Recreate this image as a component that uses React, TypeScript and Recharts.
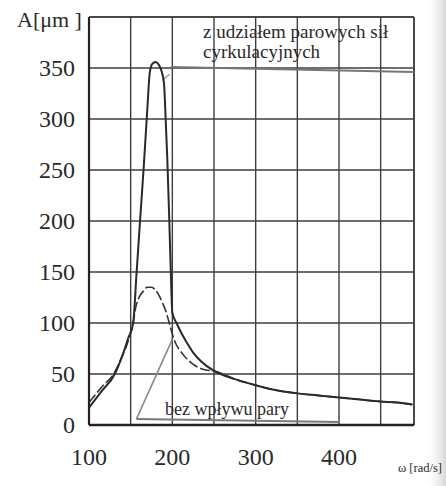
import React from 'react';
import { LineChart, Line, XAxis, YAxis, CartesianGrid, ReferenceLine } from 'recharts';

// ω [rad/s] samples and amplitude λ [µm]
const omegaA = [100, 115, 131, 140, 147, 153, 157, 161, 166, 170, 173, 176, 180, 184, 187, 190, 192, 194, 196, 198, 200, 205, 211, 218, 225, 235];
const lambdaA = [17, 33, 50, 68, 85, 100, 148, 197, 257, 310, 346, 354, 356, 353, 347, 335, 300, 260, 210, 155, 110, 100, 90, 80, 71, 62];

const omegaB = [100, 115, 131, 138, 146, 153, 156, 160, 165, 170, 175, 180, 184, 188, 192, 196, 202, 213, 226, 240];
const lambdaB = [22, 37, 52, 64, 80, 100, 115, 125, 131, 135, 135, 132, 127, 120, 112, 101, 84, 69, 59, 54];

const omegaTail = [250, 275, 300, 325, 350, 375, 400, 425, 450, 470, 488];
const lambdaTail = [53, 45, 39, 34, 31, 29, 27, 25, 23, 22, 20];

const xTicks = [100, 150, 200, 250, 300, 350, 400, 450];
const yTicks = [0, 50, 100, 150, 200, 250, 300, 350, 400];
const xLabels = [100, 200, 300, 400];

const seriesA = [...omegaA, ...omegaTail].map((w, i) => ({ w, v: [...lambdaA, ...lambdaTail][i] }));
const seriesB = [...omegaB, ...omegaTail].map((w, i) => ({ w, v: [...lambdaB, ...lambdaTail][i] }));

const FONT = '"Liberation Serif", "DejaVu Serif", serif';
const INK = '#2a2a2a';
const GRID = '#3e3e3e';

const XTick = (props: any) => {
  const { x, y, payload } = props;
  if (!xLabels.includes(payload.value)) return null;
  return (
    <text x={x} y={y + 40} textAnchor="middle" fontFamily={FONT} fontSize={24} fill={INK}>
      {payload.value}
    </text>
  );
};

const YTick = (props: any) => {
  const { x, y, payload } = props;
  if (payload.value === 400) return null;
  return (
    <text x={x} y={y} dy="0.35em" textAnchor="end" fontFamily={FONT} fontSize={24} fill={INK}>
      {payload.value}
    </text>
  );
};

export default function App() {
  return (
    <div style={{ position: 'absolute', left: 0, top: 0, width: 446, height: 486, background: '#fff' }}>
      <LineChart width={446} height={486} margin={{ top: 17, right: 32, bottom: 0, left: 0 }}>
        <CartesianGrid stroke={GRID} strokeWidth={1.4} />
        <XAxis
          type="number"
          dataKey="w"
          domain={[100, 490]}
          ticks={xTicks}
          allowDataOverflow
          height={61}
          tickSize={0}
          tickMargin={0}
          tick={<XTick />}
          axisLine={{ stroke: '#222', strokeWidth: 2.5 }}
          tickLine={false}
        />
        <YAxis
          type="number"
          domain={[0, 400]}
          ticks={yTicks}
          width={89}
          tickSize={0}
          tickMargin={14}
          tick={<YTick />}
          axisLine={{ stroke: '#222', strokeWidth: 2.2 }}
          tickLine={false}
        />
        <ReferenceLine x={490} stroke={GRID} strokeWidth={1.6} />
        <ReferenceLine y={400} stroke={GRID} strokeWidth={1.6} />
        <ReferenceLine segment={[{ x: 198, y: 351 }, { x: 490, y: 346 }]} stroke="#777" strokeWidth={2} />
        <ReferenceLine segment={[{ x: 157, y: 6 }, { x: 200, y: 84 }]} stroke="#8a8a8a" strokeWidth={1.6} />
        <ReferenceLine segment={[{ x: 157, y: 6 }, { x: 400, y: 3 }]} stroke="#7a7a7a" strokeWidth={2} />
        <ReferenceLine segment={[{ x: 188, y: 338 }, { x: 197, y: 344 }]} stroke="#8a8a8a" strokeWidth={1.2} />
        <Line
          data={seriesB}
          dataKey="v"
          type="monotone"
          stroke="#333"
          strokeWidth={1.6}
          strokeDasharray="10 3"
          dot={false}
          isAnimationActive={false}
        />
        <Line
          data={seriesA}
          dataKey="v"
          type="monotone"
          stroke={INK}
          strokeWidth={2}
          dot={false}
          isAnimationActive={false}
        />
      </LineChart>
      <svg width={446} height={486} style={{ position: 'absolute', left: 0, top: 0, pointerEvents: 'none' }}>
        <defs>
          <linearGradient id="edge" x1="0" x2="1" y1="0" y2="0">
            <stop offset="0" stopColor="#ffffff" stopOpacity={0} />
            <stop offset="1" stopColor="#d6d6d6" stopOpacity={1} />
          </linearGradient>
        </defs>
        <rect x={424} y={0} width={22} height={486} fill="url(#edge)" />
        <text x={17} y={27} fontFamily={FONT} fontSize={22} fill={INK}>A[μm ]</text>
        <text x={203} y={38} fontFamily={FONT} fontSize={19} fill={INK}>z udziałem parowych sił</text>
        <text x={203} y={58} fontFamily={FONT} fontSize={19} fill={INK}>cyrkulacyjnych</text>
        <text x={165} y={415} fontFamily={FONT} fontSize={18} fill={INK}>bez wpływu pary</text>
        <text x={398} y={472} fontFamily={FONT} fontSize={12.5} fill={INK}>ω [rad/s]</text>
      </svg>
    </div>
  );
}
